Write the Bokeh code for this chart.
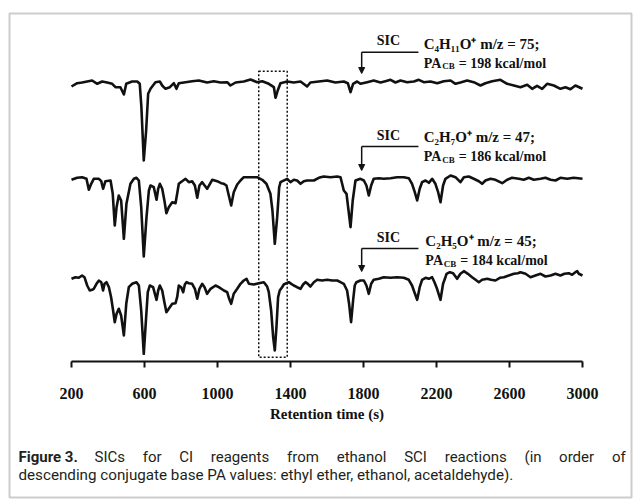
import numpy as np
from bokeh.plotting import figure
from bokeh.models import Range1d, FixedTicker, Label, BoxAnnotation, Arrow, NormalHead
from bokeh.embed import file_html
from bokeh.resources import INLINE

# ---------------- data ----------------
# SIC m/z 75 (C4H11O+), retention time (s) and relative signal
t_75 = [200, 231, 258, 286, 313, 341, 368, 395, 423, 441, 468, 487, 500, 532, 560, 574, 583, 596, 609, 620,
        633, 660, 684, 697, 715, 739, 761, 775, 788, 825, 861, 898, 943, 980, 1016, 1053, 1071, 1099, 1144, 1181,
        1217, 1245, 1281, 1309, 1318, 1330, 1345, 1382, 1418, 1455, 1491, 1509, 1555, 1601, 1646, 1692, 1714, 1729,
        1743, 1765, 1783, 1820, 1856, 1893, 1920, 1948, 1975, 2003, 2039, 2076, 2103, 2130, 2167, 2204, 2240, 2277,
        2304, 2331, 2368, 2404, 2441, 2468, 2505, 2550, 2587, 2624, 2660, 2697, 2724, 2751, 2779, 2806, 2843, 2879,
        2907, 2934, 2961, 3000]
sic_75 = [-5, -1.7, -1, 0, 1, -2.3, 0, -1, -2.3, -5.7, -5.7, -13, -2.3, 0, 0, -2.3, -25.7, -79, -49, -12.3,
          -7.3, -0.7, 0, -4, -7.3, -5.7, -1.7, -7.3, -1.7, -0.7, 0.3, 1, -1, 0.3, -1, -0.7, -4, -1, 0, 2,
          -0.7, 0.3, -2.3, -5.7, -16.3, -9, -1.7, 0, -1, 0, -5, -1, 0, 1, -1, 0, -1.7, -10.7,
          -2.3, 0, -2.3, -0.7, 1, -1, 0.3, 1.7, -1, 1, -0.7, 0, 1.7, -0.7, 0, -1.7, 0.3, 1,
          -2.3, -1, 1, -0.7, -4, -1.7, 0.3, 1.7, -2.3, -4, -5.7, -3.3, -7.3, -4.3, -7.3, -2.3, -4, -7.3,
          -5.7, -7.7, -4, -7.3]

# SIC m/z 47 (C2H7O+)
t_47 = [200, 231, 258, 282, 295, 308, 322, 350, 363, 373, 386, 414, 426, 437, 447, 459, 472, 487, 501, 523,
        542, 556, 569, 582, 596, 611, 624, 633, 651, 666, 675, 684, 697, 709, 720, 733, 752, 770, 779, 788,
        806, 825, 843, 861, 876, 889, 901, 916, 943, 971, 998, 1020, 1035, 1049, 1062, 1075, 1089, 1108, 1126, 1144,
        1181, 1217, 1245, 1268, 1290, 1301, 1314, 1327, 1338, 1345, 1382, 1400, 1418, 1436, 1455, 1473, 1491, 1528,
        1555, 1582, 1619, 1656, 1674, 1683, 1692, 1707, 1718, 1729, 1741, 1756, 1783, 1802, 1816, 1829, 1842, 1856,
        1884, 1911, 1948, 1984, 2021, 2048, 2066, 2081, 2094, 2108, 2121, 2140, 2158, 2176, 2194, 2209, 2222, 2236,
        2249, 2277, 2304, 2331, 2350, 2377, 2404, 2432, 2450, 2468, 2496, 2523, 2560, 2587, 2614, 2651, 2678, 2706,
        2733, 2770, 2797, 2825, 2852, 2879, 2916, 2952, 3000]
sic_47 = [-1.3, 0.7, 1.3, -0.3, -11.3, -5.3, -0.3, -0.3, -2.7, -10.3, -2.7, -2, -15.3, -47, -28.7, -17, -22, -60.3, -25.3, -5.3,
          -0.3, 0.7, -2, -28.7, -78, -38.7, -12, -7, -8.7, -21.3, -10.3, -5.3, -10.3, -22, -34.7, -28.7, -23.7, -24.7, -15.3, -5.3,
          -2.7, -0.3, -3.7, -2.7, -7, -19.3, -7, -3.7, -10.3, -1.3, -2.7, -4.7, -5.3, -7, -17, -27, -13.7, -6, -2, 1.3,
          1.3, 1.3, -1.3, -5.3, -15.3, -32, -65.3, -38.7, -8.7, -3.7, -0.3, -3.7, -1.3, -2, -5.3, -2.7, -2, -2,
          0.7, 2, 1.3, 2, 1.3, -5.3, -12, -15.3, -32, -48.7, -22, -2, -0.3, -2, -7, -17, -7, -0.3,
          0.3, -0.3, 0.3, 1.3, 1.3, 0.3, -5.3, -13.7, -22, -10.3, -3.7, -2, -4.3, -0.3, -5.3, -13.7, -23.7, -7,
          -0.3, 3, 1.3, -3.7, 1.3, 2, -0.3, -2.7, -5.3, -2, -0.3, -1.3, -4.7, -1.3, 0.7, -0.3, -1.3, 0.7,
          -1.3, -0.3, 0.7, -1.3, -2, 0.7, -0.3, 0.7, -0.3]

# SIC m/z 45 (C2H5O+)
t_45 = [200, 222, 240, 258, 271, 286, 300, 313, 322, 337, 350, 363, 373, 381, 392, 405, 417, 428, 437, 447,
        459, 472, 487, 500, 514, 532, 556, 569, 582, 596, 609, 618, 629, 647, 666, 675, 684, 697, 709, 720,
        733, 752, 770, 779, 788, 801, 812, 821, 830, 843, 861, 876, 889, 901, 916, 929, 943, 962, 989, 1007,
        1035, 1053, 1064, 1075, 1089, 1108, 1126, 1144, 1159, 1172, 1199, 1226, 1254, 1272, 1281, 1294, 1305, 1314,
        1323, 1332, 1341, 1354, 1363, 1378, 1391, 1404, 1418, 1436, 1455, 1469, 1482, 1495, 1509, 1528, 1546, 1573,
        1601, 1628, 1656, 1674, 1692, 1710, 1721, 1732, 1743, 1752, 1761, 1783, 1802, 1816, 1829, 1842, 1856, 1884,
        1911, 1948, 1984, 2021, 2048, 2066, 2079, 2094, 2108, 2121, 2140, 2158, 2176, 2189, 2203, 2222, 2236, 2249,
        2255, 2273, 2291, 2313, 2331, 2350, 2372, 2395, 2414, 2432, 2450, 2478, 2499, 2523, 2547, 2569, 2596, 2624,
        2646, 2660, 2688, 2715, 2742, 2770, 2797, 2825, 2852, 2879, 2901, 2925, 2943, 2961, 2971, 2980, 3000]
sic_45 = [1.7, 3.3, 2.7, 5, 3.3, -5, -10, -9.3, -8.3, -3.3, 0, -1.7, -10, -3.3, -1.7, -6.7, -16.7, -30, -41.7, -33.3,
          -28.3, -35, -55, -23.3, -6.7, -3.3, -1.7, -5, -30, -73.3, -36.7, -11.7, -5, -6.7, -19.3, -10, -5, -10, -21.7, -31.7,
          -28.3, -23.3, -22.7, -16.7, -5, -6.7, -11.7, -4, -1.7, -2.7, -3.3, -8.3, -18.3, -8.3, -3.3, -6.7, -13.3, -8.3, -5, -6.7,
          -10, -11.7, -18.3, -23.3, -13.3, -8.3, -3.3, 0, 1.7, -3.3, -4, -2.7, -1.7, -6, -11.7, -30, -56.7, -70,
          -46.7, -16.7, -10, -6.7, -4, -2.7, -1.7, -3.3, -5, -6.7, -8.3, -4, -1.7, -3.3, -6, -1.7, 0.7, 0,
          0.7, 0, 0, -1.7, -3.3, -10, -23.3, -41.7, -20, -5, -1.7, 0, 0, -5, -13.3, -3.3, 0.7, 1.7,
          3.3, 2.7, 3.3, 2.7, 0.7, -5, -11.7, -19.3, -6.7, 0.7, 2.7, 1.7, 3.3, -1.7, -8.3, -19.3, -3.3, 3.3,
          6.7, 8.3, 7.3, 1.7, 6.7, 9.3, 6.7, 3.3, 0.7, -1.7, 0.7, 1.7, 0.7, 0, 2.7, 3.3, 5, 6.7,
          7.3, 8.3, 6.7, 3.3, 5, 6.7, 4, 5, 6.7, 5, 6.7, 7.3, 5.7, 8.3, 9.3, 6.7, 5]

x_ticks = [200, 600, 1000, 1400, 1800, 2200, 2600, 3000]
ion_labels = ["C\u2084H\u2081\u2081O\u207a m/z = 75;", "C\u2082H\u2087O\u207a m/z = 47;", "C\u2082H\u2085O\u207a m/z = 45;"]
pa_values = ["= 198 kcal/mol", "= 186 kcal/mol", "= 184 kcal/mol"]
highlight_window = [1226, 1382]     # retention-time window boxed with dots
sic_marker_time = 1790

# ---------------- layout constants ----------------
trace_offsets = [280, 183, 81]
bracket_y = [309.3, 215, 113]
tip_y = [288, 191, 90]
sic_y = [321, 226, 124.3]
ion_y = [318, 224.3, 121]
pa_y = [298.3, 205, 101]
text_x = [2130, 2130, 2139]

SERIF = "Liberation Serif"
INK = "#111111"
CAP_INK = "#231f20"

# frame spans the whole canvas; axis drawn at a fixed location
p = figure(width=640, height=500, x_range=Range1d(-189.04, 3317.8), y_range=Range1d(-139, 361),
           output_backend="svg", toolbar_location=None, y_axis_location=None, min_border=0)
p.grid.visible = False
p.outline_line_color = None
p.background_fill_color = "white"
p.border_fill_color = "white"

xa = p.xaxis[0]
xa.fixed_location = 0
xa.bounds = (200, 3000)
xa.ticker = FixedTicker(ticks=x_ticks)
xa.minor_tick_line_color = None
xa.major_tick_in = 0
xa.major_tick_out = 6
xa.axis_line_width = 2
xa.major_tick_line_width = 2
xa.axis_line_color = INK
xa.major_tick_line_color = INK
xa.major_label_text_font = SERIF
xa.major_label_text_font_style = "bold"
xa.major_label_text_font_size = "16px"
xa.major_label_text_color = INK
xa.major_label_standoff = 20
xa.axis_label = "Retention time (s)"
xa.axis_label_text_font = SERIF
xa.axis_label_text_font_style = "bold"
xa.axis_label_text_font_size = "15px"
xa.axis_label_text_color = INK
xa.axis_label_standoff = 4

for t, s, off in [(t_75, sic_75, trace_offsets[0]), (t_47, sic_47, trace_offsets[1]), (t_45, sic_45, trace_offsets[2])]:
    p.line(t, np.array(s) + off, line_width=2.6, color=INK, line_join="round")

p.quad(left=[highlight_window[0]], right=[highlight_window[1]], top=[290.3], bottom=[4.3],
       fill_color=None, line_color=INK, line_width=1.5, line_dash="2 2")

for i in range(3):
    p.segment(x0=[sic_marker_time], y0=[bracket_y[i]], x1=[2101], y1=[bracket_y[i]], line_color=INK, line_width=1.5)
    p.add_layout(Arrow(end=NormalHead(size=6, fill_color=INK, line_color=INK),
                       x_start=sic_marker_time, y_start=bracket_y[i], x_end=sic_marker_time, y_end=tip_y[i],
                       line_color=INK, line_width=1.5))
    p.add_layout(Label(x=1937, y=sic_y[i], text="SIC", text_align="center", text_baseline="middle",
                       text_font=SERIF, text_font_style="bold", text_font_size="14px", text_color=INK))
    p.add_layout(Label(x=text_x[i], y=ion_y[i], text=ion_labels[i], text_align="left", text_baseline="middle",
                       text_font=SERIF, text_font_style="bold", text_font_size="15px", text_color=INK))
    p.add_layout(Label(x=text_x[i], y=pa_y[i], text="PA", text_align="left", text_baseline="middle",
                       text_font=SERIF, text_font_style="bold", text_font_size="14px", text_color=INK))
    p.add_layout(Label(x=text_x[i], y=pa_y[i] - 3, x_offset=18.5, text="CB", text_align="left", text_baseline="middle",
                       text_font=SERIF, text_font_style="bold", text_font_size="9px", text_color=INK))
    p.add_layout(Label(x=text_x[i], y=pa_y[i], x_offset=35, text=pa_values[i], text_align="left", text_baseline="middle",
                       text_font=SERIF, text_font_style="bold", text_font_size="14px", text_color=INK))

# outer frame of the figure panel
p.add_layout(BoxAnnotation(left=9, right=631, top=13, bottom=497, left_units="canvas", right_units="canvas",
                           top_units="canvas", bottom_units="canvas", fill_color=None,
                           line_color="#555555", line_width=2))

# caption (first line justified word by word)
CAP = "Roboto"
cap_words = ["SICs", "for", "CI", "reagents", "from", "ethanol", "SCI", "reactions", "(in", "order", "of"]
cap_x = [94.0, 142.2, 178.7, 210.3, 286.5, 336.2, 403.7, 444.2, 524.0, 558.6, 611.4]
p.add_layout(Label(x=18, y=456, x_units="canvas", y_units="canvas", text="Figure 3.", text_baseline="middle",
                   text_font=CAP, text_font_style="bold", text_font_size="15px", text_color=CAP_INK))
for w, x in zip(cap_words, cap_x):
    p.add_layout(Label(x=x, y=456, x_units="canvas", y_units="canvas", text=w, text_baseline="middle",
                       text_font=CAP, text_font_size="15px", text_color=CAP_INK))
p.add_layout(Label(x=18, y=474, x_units="canvas", y_units="canvas",
                   text="descending conjugate base PA values: ethyl ether, ethanol, acetaldehyde).",
                   text_baseline="middle", text_font=CAP, text_font_size="15.2px", text_color=CAP_INK))

open("out.html", "w").write(file_html(p, INLINE))
